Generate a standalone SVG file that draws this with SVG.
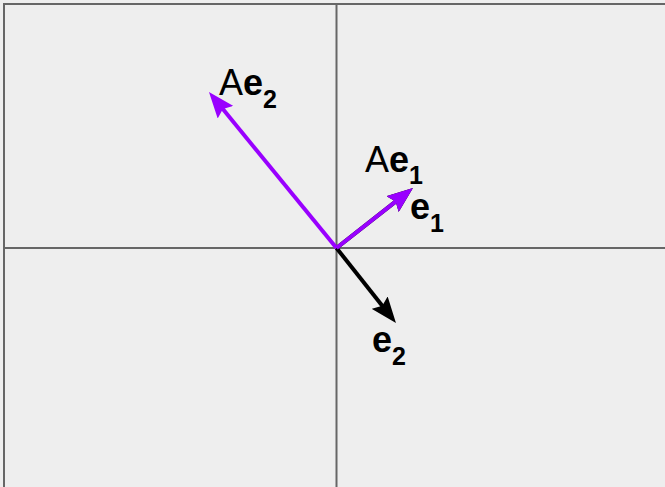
<svg xmlns="http://www.w3.org/2000/svg" width="665" height="487" viewBox="0 0 665 487">
  <style>
    .frame { stroke: #666666; stroke-width: 2; fill: none; }
    .vec { stroke-width: 4; fill: none; }
    .purple { stroke: #9900ff; }
    .black { stroke: #000000; }
    .lbl { font-family: "Liberation Sans", Arial, sans-serif; font-size: 36px; fill: #000000; }
    .b { font-weight: bold; }
    .sub { font-size: 25px; font-weight: bold; }
  </style>
  <defs>
    <marker id="headP" markerUnits="userSpaceOnUse" viewBox="0 0 26 20" refX="16" refY="10" markerWidth="26" markerHeight="20" orient="auto">
      <path d="M0,0 L26,10 L0,20 L4,10 z" fill="#9900ff"/>
    </marker>
    <marker id="headK" markerUnits="userSpaceOnUse" viewBox="0 0 26 20" refX="16" refY="10" markerWidth="26" markerHeight="20" orient="auto">
      <path d="M0,0 L26,10 L0,20 L4,10 z" fill="#000000"/>
    </marker>
  </defs>
  <rect x="0" y="0" width="665" height="487" fill="#eeeeee"/>
  <g id="axes">
    <line class="frame" x1="3" y1="4" x2="665" y2="4"/>
    <line class="frame" x1="4" y1="3" x2="4" y2="487"/>
    <line class="frame" x1="4" y1="248" x2="665" y2="248"/>
    <line class="frame" x1="336.5" y1="4" x2="336.5" y2="487"/>
  </g>
  <g id="connectors">
    <line id="e1" class="vec black" x1="336.5" y1="248" x2="405.1" y2="194.15" marker-end="url(#headK)"/>
    <line id="e2" class="vec black" x1="336.5" y1="248" x2="389.75" y2="315.19" marker-end="url(#headK)"/>
    <line id="Ae1" class="vec purple" x1="336.5" y1="248" x2="405.1" y2="194.15" marker-end="url(#headP)"/>
    <line id="Ae2" class="vec purple" x1="336.5" y1="248" x2="215.3" y2="99.8" marker-end="url(#headP)"/>
  </g>
  <g id="label-Ae2">
    <text class="lbl" x="219" y="95">A<tspan class="b">e</tspan><tspan class="sub" dy="13">2</tspan></text>
  </g>
  <g id="label-Ae1">
    <text class="lbl" x="365" y="172">A<tspan class="b">e</tspan><tspan class="sub" dy="12">1</tspan></text>
  </g>
  <g id="label-e1">
    <text class="lbl b" x="410" y="219">e<tspan class="sub" dy="13">1</tspan></text>
  </g>
  <g id="label-e2">
    <text class="lbl b" x="372" y="352">e<tspan class="sub" dy="13">2</tspan></text>
  </g>
</svg>
